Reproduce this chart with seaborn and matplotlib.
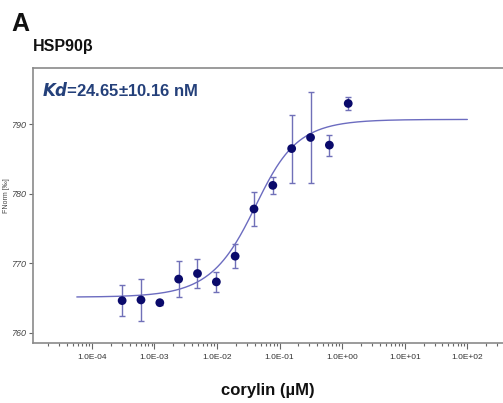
import numpy as np
import pandas as pd
import matplotlib
matplotlib.use("Agg")
import matplotlib.pyplot as plt
import seaborn as sns
from matplotlib.ticker import LogLocator, FixedLocator, FuncFormatter, NullFormatter

# corylin dilution series (µM) and normalized fluorescence (‰)
conc = [0.000305, 0.00061, 0.00122, 0.00244, 0.00488, 0.00977, 0.0195,
        0.039, 0.078, 0.156, 0.3125, 0.625, 1.25]
fnorm = [764.6, 764.7, 764.3, 767.7, 768.5, 767.3, 771.0,
         777.8, 781.2, 786.5, 788.1, 787.0, 793.0]
fnorm_err = [2.2, 3.0, 0.3, 2.6, 2.1, 1.4, 1.7,
             2.4, 1.2, 4.9, 6.6, 1.5, 1.0]
xtick_values = [1e-4, 1e-3, 1e-2, 1e-1, 1e0, 1e1, 1e2]

# Kd binding-model fit parameters
kd = 0.02465          # µM
target = 0.03         # µM, labelled target concentration
unbound = 765.1
bound = 790.7
fit_range = [10 ** -4.24, 100.0]

c = np.logspace(np.log10(fit_range[0]), np.log10(fit_range[1]), 400)
s = c + target + kd
frac = (s - np.sqrt(s ** 2 - 4 * c * target)) / (2 * target)
fit = pd.DataFrame({"conc": c, "fnorm": unbound + (bound - unbound) * frac})
pts = pd.DataFrame({"conc": conc, "fnorm": fnorm, "err": fnorm_err})

sns.set_style("white")
plt.rcParams["font.family"] = ["Liberation Sans", "DejaVu Sans"]

fig = plt.figure(figsize=(5.03, 4.03), dpi=100)
ax = fig.add_axes([33 / 503, 1 - 343.3 / 403, 1 - 33 / 503, (343.3 - 67.7) / 403])

sns.lineplot(data=fit, x="conc", y="fnorm", ax=ax, color="#6c6cc0", lw=1.0)
ax.errorbar(pts["conc"], pts["fnorm"], yerr=pts["err"], fmt="none",
            ecolor="#7070b8", elinewidth=1.0, capsize=2.5, capthick=1.0, zorder=3)
sns.scatterplot(data=pts, x="conc", y="fnorm", ax=ax, color="#0a0a6b",
                s=40, edgecolor="none", zorder=4)

ax.set_xscale("log")
ax.set_xlim(10 ** -4.94, 10 ** 2.57)
ax.set_ylim(758.45, 798.15)
ax.set_yticks([760, 770, 780, 790])

ax.xaxis.set_major_locator(FixedLocator(xtick_values))
ax.xaxis.set_minor_locator(LogLocator(base=10, subs=np.arange(2, 10), numticks=20))
ax.xaxis.set_major_formatter(FuncFormatter(lambda v, p: f"{v:.1E}"))
ax.xaxis.set_minor_formatter(NullFormatter())

for side in ["top", "left", "bottom"]:
    ax.spines[side].set_color("#8a8a8a")
    ax.spines[side].set_linewidth(1.2)
ax.spines["right"].set_visible(False)

ax.tick_params(axis="x", which="major", direction="out", length=4, width=0.8,
               color="#666666", labelsize=6, labelcolor="#333333", pad=4)
ax.tick_params(axis="x", which="minor", direction="out", length=2.5, width=0.8,
               color="#666666")
ax.tick_params(axis="y", which="major", direction="out", length=3, width=0.8,
               color="#666666", labelsize=6.5, labelcolor="#444444", pad=2)
ax.tick_params(bottom=True, left=True, which="both")
ax.tick_params(axis="x", which="minor", bottom=True)
for lbl in ax.get_yticklabels():
    lbl.set_fontstyle("italic")

ax.set_xlabel("")
ax.set_ylabel("")
fig.text(7 / 503, 1 - 196 / 403, "FNorm [‰]", rotation=90, fontsize=5,
         color="#444444", ha="center", va="center")
fig.text(268 / 503, 1 - 390 / 403, "corylin (µM)", fontsize=12, fontweight="bold",
         ha="center", va="center", color="#111111")

fig.text(11 / 503, 1 - 24 / 403, "A", fontsize=18, fontweight="bold",
         ha="left", va="center", color="#111111")
fig.text(33 / 503, 1 - 46 / 403, "HSP90β", fontsize=11.5, fontweight="bold",
         ha="left", va="center", color="#111111")

kd_color = "#24407a"
ax.text(0.02, 0.92, r"$\mathbfit{Kd}$" + "=24.65±10.16 nM", transform=ax.transAxes,
        fontsize=12, fontweight="bold", color=kd_color, ha="left", va="center")

fig.savefig("out.png", dpi=100)
